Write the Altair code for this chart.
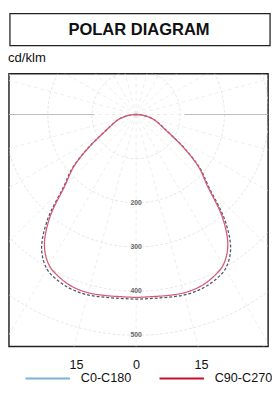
import altair as alt
import numpy as np
import pandas as pd

# ---- data (cd/klm) ----
angles = [0, 5, 10, 15, 20, 25, 30, 35, 40, 45, 50, 55, 60, 65, 70, 75, 80, 85, 90]
c0_c180 = [418, 418, 420, 423, 422, 416, 404, 373, 313, 233, 188, 134, 90, 66, 52, 40, 26, 13, 0]
c90_c270 = [414, 414, 416, 418, 416, 408, 394, 362, 304, 228, 185, 132, 89, 65, 51, 39, 25, 12, 0]
series_names = ["C0-C180", "C90-C270"]
ring_values = [100, 200, 300, 400, 500, 600]
ring_labels = ["", "200", "300", "400", "500", ""]
radial_angles = list(range(0, 360, 15))
tick_values = [-136, 0, 147]
tick_labels = ["15", "0", "15"]

PX = 0.455  # px per cd/klm
XDOM = [-131 / PX, 136 / PX]
YDOM = [-42 / PX, 239 / PX]

# ---- build tables ----
rows = []
for name, vals in zip(series_names, [c0_c180, c90_c270]):
    pts = [(-a, v) for a, v in zip(angles[::-1], vals[::-1])] + [(a, v) for a, v in zip(angles[1:], vals[1:])]
    for i, (a, v) in enumerate(pts):
        t = np.radians(a)
        rows.append({"series": name, "idx": i, "x": v * np.sin(t), "y": v * np.cos(t)})
curve = pd.DataFrame(rows)

ring_rows = []
for r in ring_values:
    for i, a in enumerate(range(0, 362, 2)):
        t = np.radians(a)
        ring_rows.append({"ring": r, "idx": i, "x": r * np.sin(t), "y": r * np.cos(t)})
rings = pd.DataFrame(ring_rows)

rad = pd.DataFrame({"a": radial_angles})
rad["x"] = 0.0
rad["y"] = 0.0
rad["x2"] = 800 * np.sin(np.radians(rad["a"]))
rad["y2"] = 800 * np.cos(np.radians(rad["a"]))

horiz = pd.DataFrame({"x": [-95, 110], "x2": [-800, 800], "y": [0, 0]})

ring_lab = pd.DataFrame({"r": ring_values, "label": ring_labels})
ring_lab = ring_lab[ring_lab["label"] != ""]
ring_lab["x"] = 0

xs = alt.Scale(domain=XDOM, nice=False, zero=False)
ys = alt.Scale(domain=YDOM, nice=False, zero=False, reverse=True)

label_expr = "[" + ",".join("'%s'" % t for t in tick_labels) + "][indexof([" + ",".join(str(v) for v in tick_values) + "], datum.value)]"
xaxis = alt.Axis(values=tick_values, labelExpr=label_expr, domain=False, ticks=False, grid=False,
                 title=None, labelFontSize=13, labelPadding=13, labelColor="#111", labelFont="Liberation Sans")

ring_layer = alt.Chart(rings).mark_line(clip=True, stroke="#dcdcdc", strokeWidth=0.7, strokeDash=[3, 2]).encode(
    x=alt.X("x:Q", scale=xs, axis=xaxis),
    y=alt.Y("y:Q", scale=ys, axis=None),
    detail="ring:N",
    order="idx:Q",
)

rad_layer = alt.Chart(rad).mark_rule(clip=True, stroke="#e6e6e6", strokeWidth=0.7, strokeDash=[4, 3]).encode(
    x=alt.X("x:Q", scale=xs), y=alt.Y("y:Q", scale=ys), x2="x2:Q", y2="y2:Q"
)

horiz_layer = alt.Chart(horiz).mark_rule(clip=True, stroke="#bdbdbd", strokeWidth=1).encode(
    x=alt.X("x:Q", scale=xs), y=alt.Y("y:Q", scale=ys), x2="x2:Q"
)

ring_text = alt.Chart(ring_lab).mark_text(fontSize=7, color="#666", font="Liberation Sans", fontWeight="bold").encode(
    x=alt.X("x:Q", scale=xs), y=alt.Y("r:Q", scale=ys), text="label:N"
)

curve_layer = alt.Chart(curve).mark_line(clip=True, strokeWidth=1.3, interpolate="catmull-rom").encode(
    x=alt.X("x:Q", scale=xs),
    y=alt.Y("y:Q", scale=ys),
    color=alt.Color("series:N", legend=None,
                    scale=alt.Scale(domain=series_names, range=["#55506a", "#d65a72"])),
    strokeDash=alt.StrokeDash("series:N", legend=None,
                              scale=alt.Scale(domain=series_names, range=[[3, 2], [1, 0]])),
    order="idx:Q",
)

legend_layer = alt.Chart(curve).mark_line(opacity=0).encode(
    x=alt.X("x:Q", scale=xs),
    y=alt.Y("y:Q", scale=ys),
    stroke=alt.Stroke("series:N",
                      scale=alt.Scale(domain=series_names, range=["#7fb1d6", "#c8102e"]),
                      legend=alt.Legend(orient="none", legendX=16, legendY=290, direction="horizontal",
                                        title=None, symbolType="stroke", symbolSize=2100,
                                        symbolStrokeWidth=2, symbolOpacity=1, labelFontSize=13,
                                        labelFont="Liberation Sans", labelColor="#111",
                                        labelOffset=10, columnPadding=24, padding=0)),
    order="idx:Q",
)

deco = pd.DataFrame({"k": [0]})
title_box = alt.Chart(deco).mark_rect(fill="white", stroke="#222", strokeWidth=1.3).encode(
    x=alt.value(1), x2=alt.value(269), y=alt.value(-62), y2=alt.value(-29)
)
title_text = alt.Chart(deco).mark_text(text="POLAR DIAGRAM", fontSize=17, fontWeight="bold",
                                       font="Liberation Sans", color="#111", baseline="middle").encode(
    x=alt.value(134), y=alt.value(-45)
)
unit_text = alt.Chart(deco).mark_text(text="cd/klm", fontSize=13.5, font="Liberation Sans", color="#111",
                                      align="left", baseline="bottom").encode(
    x=alt.value(-1), y=alt.value(-9)
)

chart = alt.layer(
    ring_layer, rad_layer, horiz_layer, ring_text, curve_layer, legend_layer,
    title_box, title_text, unit_text
).resolve_scale(color="independent", stroke="independent").properties(
    width=267, height=281,
    padding={"left": 1, "top": 62, "right": 4, "bottom": 35},
    autosize=alt.AutoSizeParams(type="none"),
).configure_view(stroke="#222", strokeWidth=1.5)

chart.save("out.html", embed_options={"renderer": "svg", "actions": False})
